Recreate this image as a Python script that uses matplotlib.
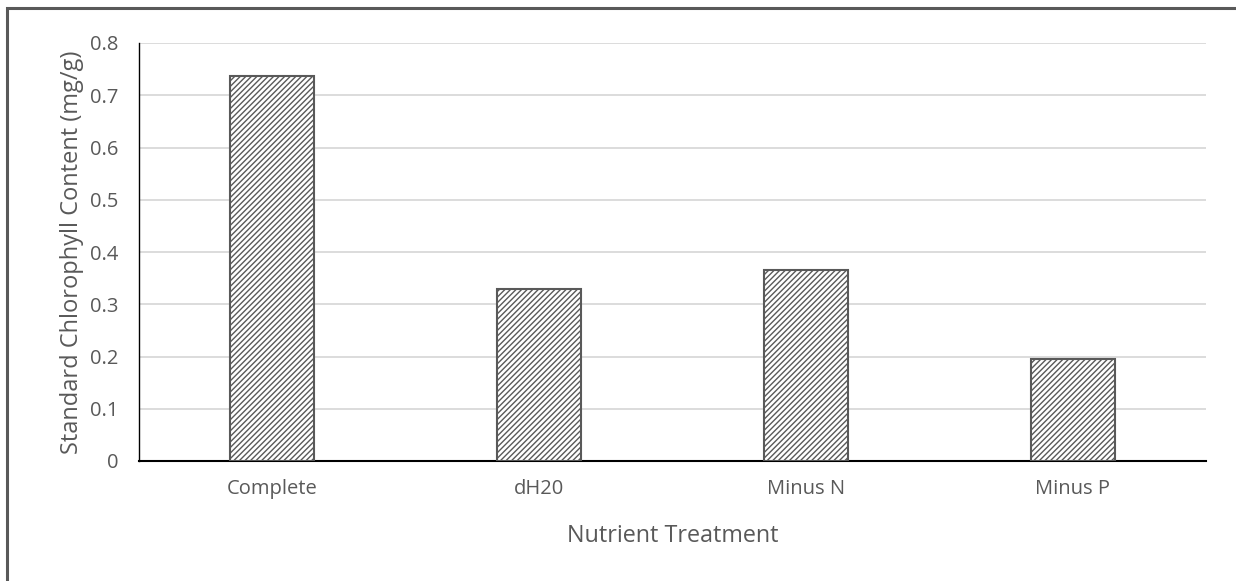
import matplotlib
matplotlib.use("Agg")
import matplotlib.pyplot as plt
from matplotlib.patches import Rectangle

treatments = ['Complete', 'dH20', 'Minus N', 'Minus P']
chlorophyll = [0.737, 0.329, 0.365, 0.196]
yticks = [0, 0.1, 0.2, 0.3, 0.4, 0.5, 0.6, 0.7, 0.8]
ytick_labels = ['0', '0.1', '0.2', '0.3', '0.4', '0.5', '0.6', '0.7', '0.8']

plt.rcParams['font.family'] = ['Open Sans', 'DejaVu Sans']
plt.rcParams['hatch.linewidth'] = 1.0
plt.rcParams['hatch.color'] = '#666666'

fig = plt.figure(figsize=(12.36, 5.81), dpi=100)
ax = fig.add_axes([139/1236, 1 - 461/581, (1206 - 139)/1236, (461 - 43)/581])

# outer frame of the chart area
fig.patches.append(Rectangle((7/1236, -0.1), 1.2, 1 - 8/581 + 0.1,
                             transform=fig.transFigure, fill=False,
                             edgecolor='#595959', linewidth=2.2))

x = range(len(treatments))
ax.bar(x, chlorophyll, width=0.315, color='white', edgecolor='#595959',
       linewidth=1.5, hatch='//////', zorder=3)

ax.set_xlim(-0.5, len(treatments) - 0.5)
ax.set_ylim(0, 0.8)
ax.set_yticks(yticks)
ax.set_yticklabels(ytick_labels)
ax.set_xticks(list(x))
ax.set_xticklabels(treatments)

ax.grid(axis='y', color='#d9d9d9', linewidth=1.3, zorder=0)
ax.set_axisbelow(True)
for s in ['top', 'right']:
    ax.spines[s].set_visible(False)
ax.spines['left'].set_color('black')
ax.spines['left'].set_linewidth(1.0)
ax.spines['bottom'].set_color('black')
ax.spines['bottom'].set_linewidth(1.5)

ax.tick_params(axis='both', length=0, labelsize=14.5, colors='#595959')
ax.tick_params(axis='y', pad=15)
ax.tick_params(axis='x', pad=13)

ax.set_ylabel('Standard Chlorophyll Content (mg/g)', fontsize=17, color='#595959', labelpad=4)
ax.set_xlabel('Nutrient Treatment', fontsize=16.8, color='#595959', labelpad=18)

plt.savefig('out.png', dpi=100)
